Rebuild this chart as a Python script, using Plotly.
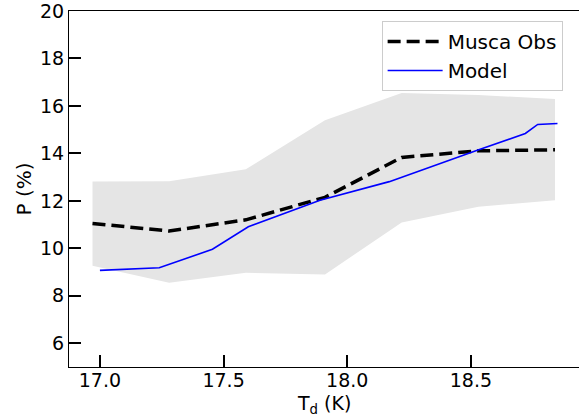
import plotly.graph_objects as go

# Shaded band (observed spread)
band_x = [16.97, 17.28, 17.59, 17.91, 18.22, 18.53, 18.84]
band_upper = [12.82, 12.83, 13.33, 15.40, 16.54, 16.46, 16.29]
band_lower = [9.27, 8.55, 8.97, 8.90, 11.09, 11.75, 12.03]

# Musca observations (dashed)
obs_x = [16.97, 17.28, 17.59, 17.91, 18.22, 18.53, 18.84]
obs_y = [11.05, 10.73, 11.20, 12.15, 13.83, 14.11, 14.15]

# Model (solid blue)
model_x = [17.0, 17.24, 17.455, 17.60, 17.89, 18.17, 18.52, 18.72, 18.77, 18.85]
model_y = [9.07, 9.18, 9.96, 10.91, 12.03, 12.81, 14.11, 14.84, 15.22, 15.26]

x_ticks = [17.0, 17.5, 18.0, 18.5]
y_ticks = [6, 8, 10, 12, 14, 16, 18, 20]

fig = go.Figure()
fig.add_trace(go.Scatter(x=band_x, y=band_lower, mode="lines", line=dict(width=0),
                         showlegend=False, hoverinfo="skip"))
fig.add_trace(go.Scatter(x=band_x, y=band_upper, mode="lines", line=dict(width=0),
                         fill="tonexty", fillcolor="#e5e5e5", showlegend=False, hoverinfo="skip"))
fig.add_trace(go.Scatter(x=obs_x, y=obs_y, mode="lines", name="Musca Obs", legendgroup="a",
                         line=dict(color="black", width=3.5, dash="13px,6px")))
fig.add_trace(go.Scatter(x=model_x, y=model_y, mode="lines", name="Model", legendgroup="b",
                         line=dict(color="#0000ff", width=1.6)))

tick_font = dict(family="DejaVu Sans", size=19, color="black")

fig.update_layout(
    width=579, height=418,
    margin=dict(l=69, r=0, t=11, b=51),
    plot_bgcolor="white", paper_bgcolor="white",
    font=tick_font,
    legend=dict(x=0.613, y=0.972, xanchor="left", yanchor="top",
                traceorder="normal", tracegroupgap=4, itemwidth=55,
                bgcolor="rgba(255,255,255,0.8)", bordercolor="#cccccc", borderwidth=1,
                font=dict(family="DejaVu Sans", size=20, color="black")),
    xaxis=dict(range=[16.875, 18.937], tickvals=x_ticks,
               ticktext=[f"{v:.1f}" for v in x_ticks],
               ticks="inside", ticklen=12, tickwidth=2, tickcolor="black",
               ticklabelstandoff=-4, tickfont=tick_font,
               showline=True, linecolor="black", linewidth=1.2, mirror=True,
               showgrid=False, zeroline=False),
    yaxis=dict(range=[5, 20], tickvals=y_ticks,
               ticks="inside", ticklen=12, tickwidth=2, tickcolor="black",
               tickfont=tick_font, ticklabeloverflow="allow",
               showline=True, linecolor="black", linewidth=1.2,
               showgrid=False, zeroline=False,
               title=dict(text="P (%)", standoff=2,
                          font=dict(family="DejaVu Sans", size=20, color="black"))),
    annotations=[dict(text="T<sub>d</sub> (K)", xref="paper", yref="paper",
                      x=0.5, y=0, xanchor="center", yanchor="top", yshift=-23,
                      showarrow=False,
                      font=dict(family="DejaVu Sans", size=19, color="black"))],
)

fig.write_html("out.html")
